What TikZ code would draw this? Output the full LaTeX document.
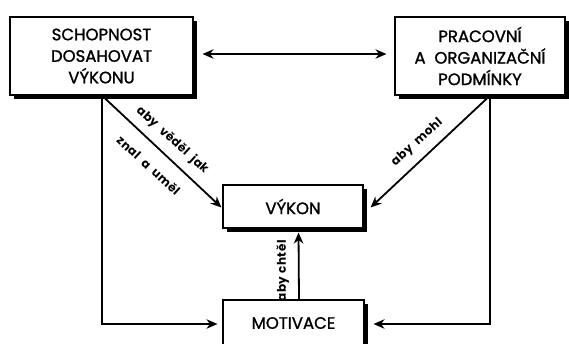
\documentclass[tikz,border=0pt]{standalone}
\usepackage{fontspec}
\setmainfont{Poppins}
\newfontfamily\boxfont{Poppins}[FakeBold=1.3]
\newfontfamily\labfont{Poppins}[LetterSpace=4]
\usetikzlibrary{arrows.meta,shadows,calc}
\begin{document}
\begin{tikzpicture}[x=1pt,y=-1pt,
  box/.style={draw=black,line width=1.1pt,fill=white,align=center,
    font=\boxfont\fontsize{16.5}{21.5}\selectfont,inner sep=0pt,
    drop shadow={shadow xshift=4pt,shadow yshift=-4pt,fill=black,opacity=1}},
  arr/.style={line width=1.8pt,-{Stealth[length=11pt,width=9.5pt]}},
  arrb/.style={line width=1.8pt,{Stealth[length=11pt,width=9.5pt]}-{Stealth[length=11pt,width=9.5pt]}},
  lab/.style={font=\labfont\bfseries\fontsize{12}{14}\selectfont,inner sep=0pt,anchor=center}]
\useasboundingbox (0,0) rectangle (569,343);
\clip (0,0) rectangle (569,343);
\node[box,minimum width=183pt,minimum height=78pt] (b1) at (101.5,56) {SCHOPNOST\\DOSAHOVAT\\VÝKONU};
\node[box,minimum width=170pt,minimum height=78pt] (b2) at (480,56) {PRACOVNÍ\\A\ \ ORGANIZAČNÍ\\PODMÍNKY};
\node[box,minimum width=140pt,minimum height=43pt] (vyk) at (293,206.5) {VÝKON};
\node[box,minimum width=141pt,minimum height=46pt] (mot) at (293.5,323) {MOTIVACE};
\coordinate (s1) at ([xshift=0.5pt]b1.south);
\coordinate (e1) at ([xshift=-1pt,yshift=-1pt]vyk.west);
\coordinate (s2) at ([xshift=10pt]b2.south);
\coordinate (e2) at ([xshift=7pt,yshift=-1pt]vyk.east);
\coordinate (s3) at ([xshift=5.5pt]mot.north);
\coordinate (e3) at ([xshift=5.5pt,yshift=-4pt]vyk.south);
\draw[arrb] ([xshift=9pt,yshift=2pt]b1.east) -- ([xshift=-8pt,yshift=2pt]b2.west);
\draw[arr] (s1) |- ([xshift=-5pt,yshift=-1pt]mot.west);
\draw[arr] (s2) |- ([xshift=9pt,yshift=-1pt]mot.east);
\draw[arr] (s1) -- (e1);
\draw[arr] (s2) -- (e2);
\draw[arr] (s3) -- (e3);
\node[lab,rotate=-42.5] (l1) at ($($(s1)!0.5!(e1)$)!15.5pt!90:(e1)$) {aby\ \ věděl\ \ jak};
\node[lab,rotate=-42.5] (l2) at ($($(s1)!0.5!(e1)$)!19pt!-90:(e1)$) {znal\ \ a\ \ uměl};
\node[lab,rotate=42] (l3) at ($($(s2)!0.52!(e2)$)!15.5pt!-90:(e2)$) {aby\ \ mohl};
\node[lab,rotate=90] (l4) at ($($(s3)!0.43!(e3)$)!16pt!90:(e3)$) {aby chtěl};
\end{tikzpicture}
\end{document}
